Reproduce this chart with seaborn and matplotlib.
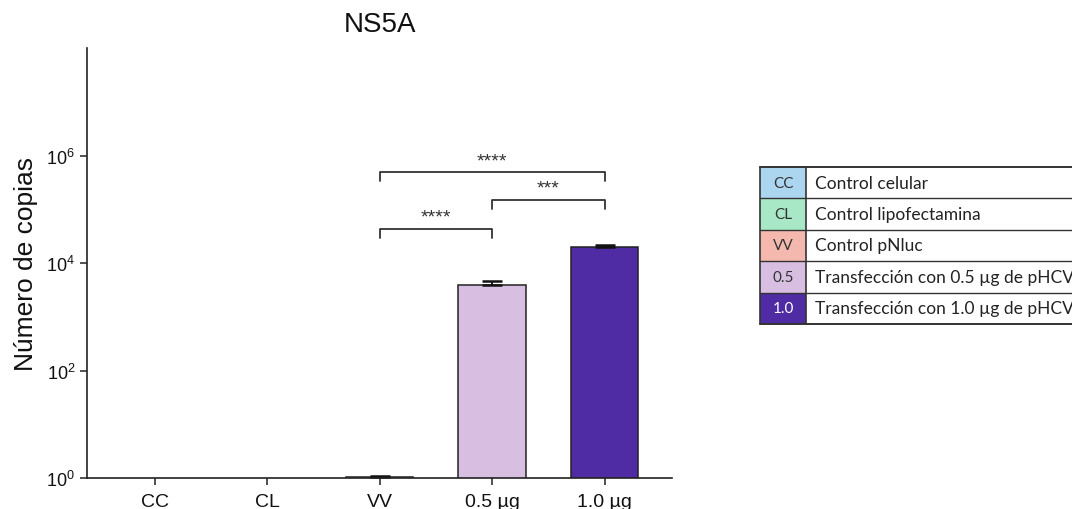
import numpy as np
import pandas as pd
import matplotlib
matplotlib.use("Agg")
import matplotlib.pyplot as plt
import seaborn as sns
from matplotlib.patches import Rectangle
from matplotlib.lines import Line2D

# ---- data ----
groups = ["CC", "CL", "VV", "0.5 µg", "1.0 µg"]
means = [np.nan, np.nan, 1.06, 3900.0, 20000.0]
errs = [0.0, 0.0, 0.04, 750.0, 1300.0]
colors = ["#acd5ef", "#a8e8c6", "#f4b8af", "#d8bfe2", "#4f2ca4"]

legend_codes = ["CC", "CL", "VV", "0.5", "1.0"]
legend_text = ["Control celular", "Control lipofectamina", "Control pNluc",
               "Transfección con 0.5 µg de pHCV", "Transfección con 1.0 µg de pHCV"]

# significance comparisons: (group a, group b, bracket height, label)
sig_pairs = [(2, 3, 10**4.63, "****"),
             (3, 4, 10**5.17, "***"),
             (2, 4, 10**5.685, "****")]

sns.set_theme(style="white")
plt.rcParams["font.family"] = ["Liberation Sans", "DejaVu Sans"]

W, H = 1072, 510
fig = plt.figure(figsize=(W / 100, H / 100), dpi=100)
ax = fig.add_axes([87 / W, 1 - 479 / H, (672 - 87) / W, (479 - 49) / H])
ax.set_yscale("log")

df = pd.DataFrame({"grupo": groups, "copias": means})
sns.barplot(data=df, x="grupo", y="copias", hue="grupo", order=groups,
            palette=colors, saturation=1, legend=False, errorbar=None,
            width=0.6, edgecolor="#222222", linewidth=1.1, ax=ax)

ax.errorbar(x=np.arange(len(groups)), y=means,
            yerr=[np.zeros(len(groups)), errs], fmt="none",
            ecolor="#111111", elinewidth=1.3, capsize=7.5, capthick=1.8)

ax.set_ylim(1, 1e8)
ax.set_xlim(-0.6, 4.6)
ax.set_yticks([1, 1e2, 1e4, 1e6])
ax.yaxis.set_minor_locator(matplotlib.ticker.NullLocator())
ax.set_xlabel("")
ax.set_ylabel("Número de copias", fontsize=19, labelpad=6, color="#111111")
ax.set_title("NS5A", fontsize=20, pad=12, color="#111111")
ax.tick_params(axis="y", which="major", length=5, width=1.1,
               color="#222222", labelsize=13, left=True, labelcolor="#111111")
ax.tick_params(axis="x", which="major", length=5, width=1.1, pad=6,
               color="#222222", labelsize=14, bottom=True, labelcolor="#111111")
for side in ["top", "right"]:
    ax.spines[side].set_visible(False)
for side in ["left", "bottom"]:
    ax.spines[side].set_color("#222222")
    ax.spines[side].set_linewidth(1.2)

# significance brackets
leg_drop = 10 ** 0.16
for a, b, y, lab in sig_pairs:
    ax.plot([a, a, b, b], [y / leg_drop, y, y, y / leg_drop],
            color="#333333", lw=1.3, clip_on=False)
    ax.text((a + b) / 2, y * 10 ** 0.22, lab, ha="center", va="center",
            fontsize=14, color="#333333")

# key table at the right
x0, x1, x2 = 760, 806, 1100
y_top, row_h = 168, 31.4
def fx(px):
    return px / W
def fy(py):
    return 1 - py / H

key_font = ["Lato", "DejaVu Sans"]
for i, (code, txt, col) in enumerate(zip(legend_codes, legend_text, colors)):
    top = y_top + i * row_h
    fig.add_artist(Rectangle((fx(x0), fy(top + row_h)), fx(x1) - fx(x0),
                             row_h / H, facecolor=col, edgecolor="none",
                             transform=fig.transFigure, zorder=1))
    tc = "white" if i == 4 else "#333333"
    fig.text(fx((x0 + x1) / 2), fy(top + row_h / 2), code, ha="center",
             va="center", fontsize=11, color=tc, family=key_font, zorder=5)
    fig.text(fx(815), fy(top + row_h / 2), txt, ha="left", va="center",
             fontsize=12.5, color="#222222", family=key_font, zorder=5)

for i in range(len(legend_codes) + 1):
    yy = fy(y_top + i * row_h)
    lw = 1.4 if i in (0, len(legend_codes)) else 1.0
    fig.add_artist(Line2D([fx(x0), fx(x2)], [yy, yy], color="#333333", lw=lw,
                          transform=fig.transFigure))
for xx in (x0, x1):
    fig.add_artist(Line2D([fx(xx), fx(xx)], [fy(y_top), fy(y_top + 5 * row_h)],
                          color="#333333", lw=1.2, transform=fig.transFigure))

fig.savefig("out.png", dpi=100)
